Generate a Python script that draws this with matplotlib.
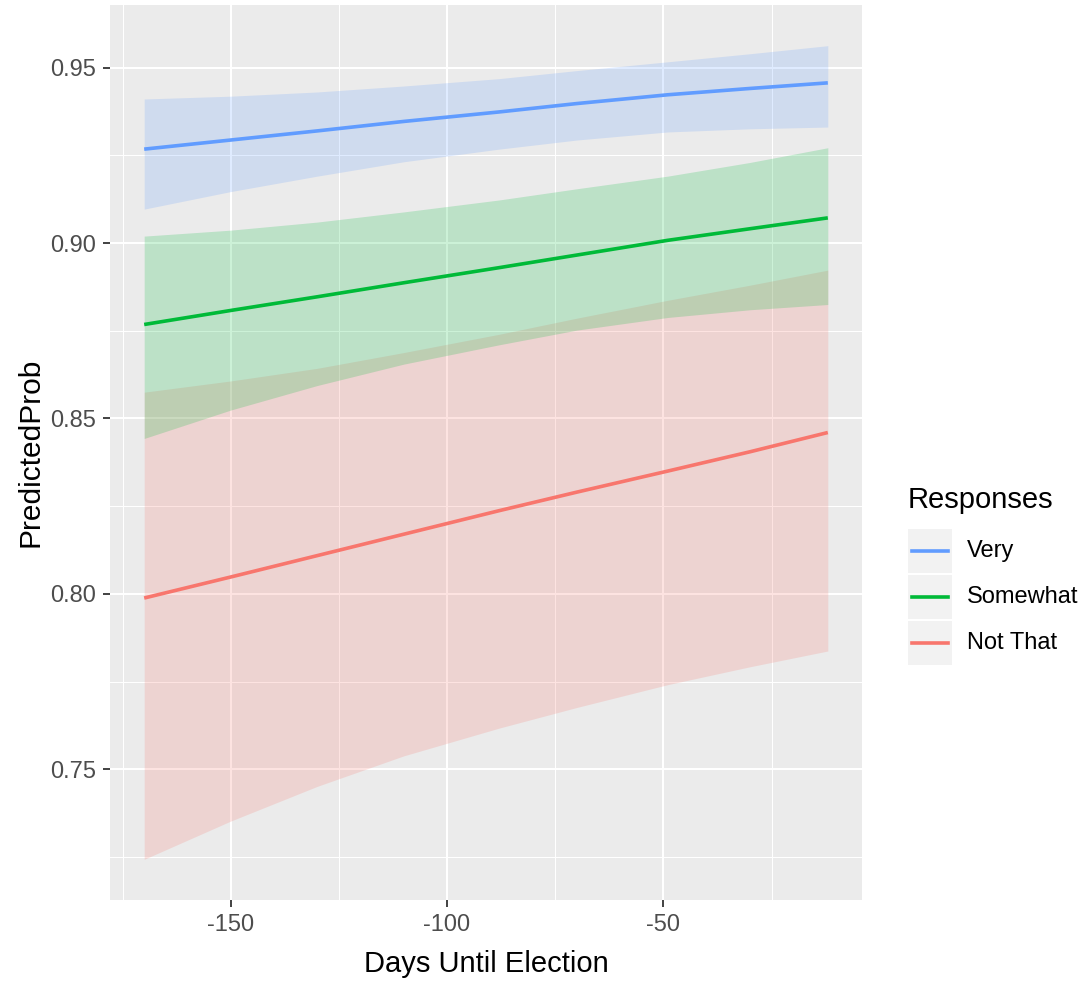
import matplotlib
matplotlib.use("Agg")
import matplotlib.pyplot as plt
from matplotlib.lines import Line2D
from matplotlib.patches import Rectangle

plt.rcParams['font.family'] = ['Liberation Sans', 'DejaVu Sans']

# ---- data ----
days = [-170, -150, -130, -110, -88, -70, -49, -30, -12]

very_fit = [0.9268, 0.9294, 0.9320, 0.9347, 0.9374, 0.9398, 0.9423, 0.9441, 0.9457]
very_lo = [0.9097, 0.9147, 0.9191, 0.9232, 0.9268, 0.9294, 0.9317, 0.9326, 0.9331]
very_hi = [0.9411, 0.9419, 0.9431, 0.9448, 0.9469, 0.9492, 0.9517, 0.9540, 0.9563]

somewhat_fit = [0.8768, 0.8808, 0.8847, 0.8887, 0.8930, 0.8966, 0.9008, 0.9041, 0.9072]
somewhat_lo = [0.8443, 0.8524, 0.8594, 0.8655, 0.8710, 0.8752, 0.8788, 0.8810, 0.8825]
somewhat_hi = [0.9020, 0.9037, 0.9060, 0.9089, 0.9123, 0.9155, 0.9191, 0.9230, 0.9272]

notthat_fit = [0.7988, 0.8048, 0.8109, 0.8170, 0.8237, 0.8290, 0.8350, 0.8405, 0.8460]
notthat_lo = [0.7243, 0.7352, 0.7451, 0.7538, 0.7617, 0.7676, 0.7741, 0.7792, 0.7837]
notthat_hi = [0.8575, 0.8607, 0.8643, 0.8688, 0.8740, 0.8786, 0.8837, 0.8880, 0.8923]

labels = ["Very", "Somewhat", "Not That"]
colors = ["#619CFF", "#00BA38", "#F8766D"]

x_major = [-150, -100, -50]
x_minor = [-175, -125, -75, -25]
y_major = [0.75, 0.80, 0.85, 0.90, 0.95]
y_minor = [0.725, 0.775, 0.825, 0.875, 0.925]

series = [
    (notthat_fit, notthat_lo, notthat_hi, colors[2]),
    (somewhat_fit, somewhat_lo, somewhat_hi, colors[1]),
    (very_fit, very_lo, very_hi, colors[0]),
]

W, H = 1091, 981
fig = plt.figure(figsize=(W / 100, H / 100), dpi=100)
L, R, T, B = 110, 862, 5, 900
ax = fig.add_axes([L / W, 1 - B / H, (R - L) / W, (B - T) / H])
ax.set_facecolor('#EBEBEB')
for s in ax.spines.values():
    s.set_visible(False)

for fit, lo, hi, c in series:
    ax.fill_between(days, lo, hi, color=c, alpha=0.2, linewidth=0)
for fit, lo, hi, c in series:
    ax.plot(days, fit, color=c, lw=2.6, solid_capstyle='butt')

xmin, xmax = min(days), max(days)
allv = very_hi + notthat_lo
ymin, ymax = min(allv), max(allv)
dx = (xmax - xmin) * 0.05
dy = (ymax - ymin) * 0.05
ax.set_xlim(xmin - dx, xmax + dx)
ax.set_ylim(ymin - dy, ymax + dy)

ax.set_xticks(x_major)
ax.set_xticks(x_minor, minor=True)
ax.set_yticks(y_major)
ax.set_yticks(y_minor, minor=True)
ax.set_xticklabels([str(v) for v in x_major])
ax.set_yticklabels([f"{v:.2f}" for v in y_major])
ax.grid(which='major', color='white', lw=1.5)
ax.grid(which='minor', color='white', lw=0.75)
ax.set_axisbelow(True)
ax.tick_params(which='major', length=5, width=1.3, color='#333333',
               labelcolor='#4D4D4D', labelsize=17, pad=5)
ax.tick_params(which='minor', length=0)

ax.set_xlabel("Days Until Election", fontsize=21, color='black', labelpad=10)
ax.set_ylabel("PredictedProb", fontsize=21.5, color='black', labelpad=4)

# ---- legend (ggplot style) ----
fig.text(908 / W, 1 - 500 / H, "Responses", fontsize=21, va='center', ha='left')
key_x, key_w, key_h = 908, 44, 46
key_top = 528
for i, (lab, c) in enumerate(zip(labels, colors)):
    y0 = key_top + i * key_h
    fig.add_artist(Rectangle((key_x / W, 1 - (y0 + key_h - 1) / H), key_w / W, (key_h - 2) / H,
                             transform=fig.transFigure, facecolor='#F2F2F2', edgecolor='none'))
    yc = 1 - (y0 + key_h / 2) / H
    fig.add_artist(Line2D([(key_x + 4) / W, (key_x + key_w - 4) / W], [yc, yc],
                          transform=fig.transFigure, color=c, lw=2.6))
    fig.text((key_x + key_w + 15) / W, yc, lab, fontsize=17, va='center', ha='left', color='black')

fig.savefig("out.png", dpi=100, facecolor='white')
